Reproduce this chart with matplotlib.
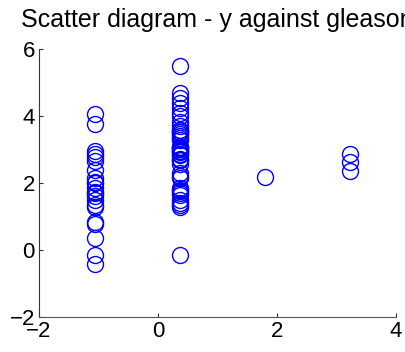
import numpy as np
import matplotlib
matplotlib.use("Agg")
import matplotlib.pyplot as plt

plt.rcParams['font.family'] = ['Liberation Sans', 'DejaVu Sans']

# standardised gleason score (4 levels) and response y
gleason_levels = [-1.06, 0.37, 1.80, 3.22]

y_g6 = [4.05, 3.75, 2.97, 2.88, 2.79, 2.65, 2.40, 2.14, 2.02, 1.99, 1.84,
        1.74, 1.69, 1.60, 1.50, 1.34, 1.27, 0.85, 0.77, 0.37, -0.16, -0.43]
y_g7 = [5.48, 4.68, 4.55, 4.38, 4.23, 4.08, 3.99, 3.83, 3.71, 3.59, 3.57,
        3.53, 3.51, 3.46, 3.39, 3.34, 3.28, 3.08, 3.06, 3.04, 3.01, 2.97,
        2.96, 2.92, 2.88, 2.85, 2.71, 2.69, 2.68, 2.57, 2.31, 2.21, 2.16,
        1.85, 1.80, 1.77, 1.71, 1.64, 1.49, 1.40, 1.35, 1.27, -0.16]
y_g8 = [2.19]
y_g9 = [2.88, 2.62, 2.37]

groups = [y_g6, y_g7, y_g8, y_g9]

fig = plt.figure(figsize=(4.05, 3.52), dpi=100)
ax = fig.add_axes([0.0963, 0.0994, 0.8815, 0.7614])

for xv, ys in zip(gleason_levels, groups):
    ax.plot(np.full(len(ys), xv), ys, 'o', mfc='none', mec=(0, 0, 1),
            ms=11.5, mew=1.0, linestyle='none', clip_on=False)

ax.set_xlim(-2, 4)
ax.set_ylim(-2, 6)
ax.set_xticks([-2, 0, 2, 4])
ax.set_yticks([-2, 0, 2, 4, 6])
ax.spines['top'].set_visible(False)
ax.spines['right'].set_visible(False)
ax.spines['left'].set_color('#333333')
ax.spines['bottom'].set_color('#555555')
ax.tick_params(direction='in', length=3, labelsize=16, colors='#333333',
               labelcolor='black', pad=3)
ax.set_title('Scatter diagram - y against gleason', fontsize=18, pad=16)

fig.savefig('out.png', dpi=100)
